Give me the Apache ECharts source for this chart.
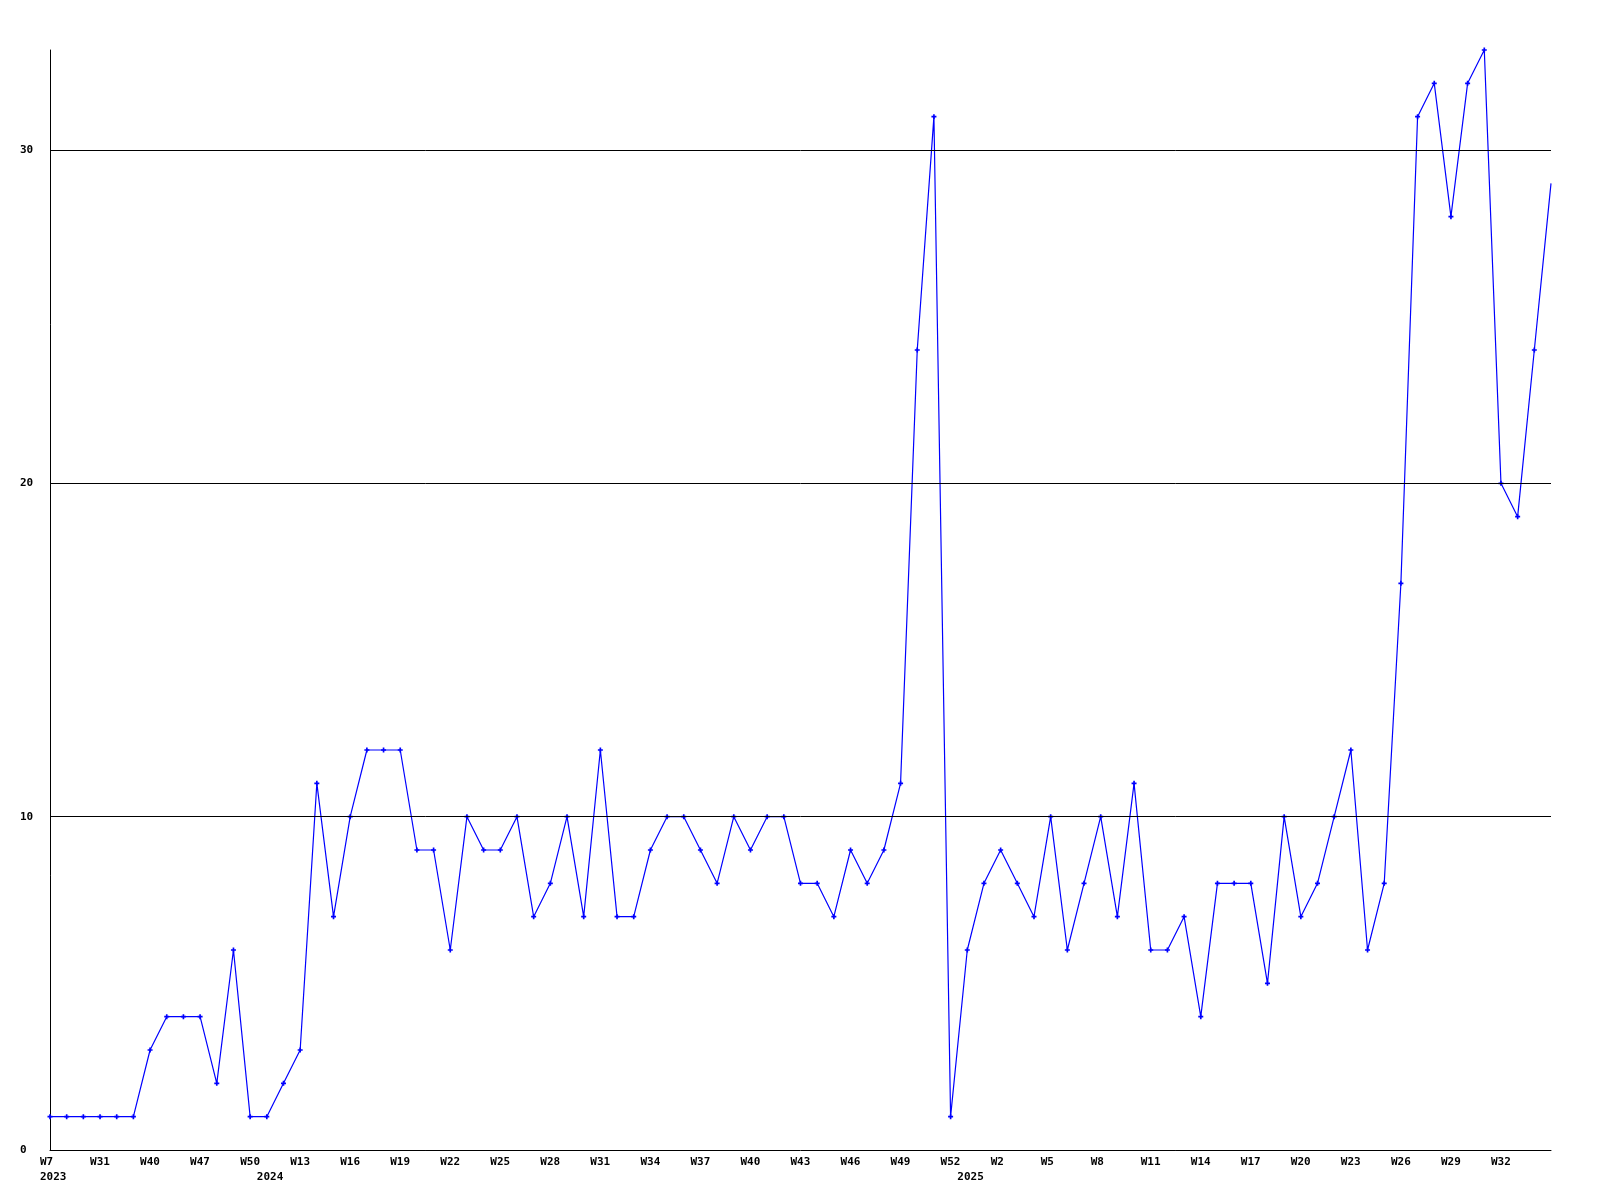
<!DOCTYPE html>
<html>
<head>
<meta charset="utf-8">
<script src="https://cdn.jsdelivr.net/npm/echarts@6/dist/echarts.min.js"></script>
<style>
html,body{margin:0;padding:0;background:#fff;}
#chart{width:1600px;height:1200px;}
</style>
</head>
<body>
<div id="chart"></div>
<script>
const weeks2023 = ['W7','W15','W22','W31','W34','W37','W40','W42','W45','W47','W48','W49','W50'];
const weeks2024 = ['W0','W8','W13','W14','W15','W16','W17','W18','W19','W20','W21','W22','W23','W24','W25','W26','W27','W28','W29','W30','W31','W32','W33','W34','W35','W36','W37','W38','W39','W40','W41','W42','W43','W44','W45','W46','W47','W48','W49','W50','W51','W52'];
const weeks2025 = ['W0','W1','W2','W3','W4','W5','W6','W7','W8','W9','W10','W11','W12','W13','W14','W15','W16','W17','W18','W19','W20','W21','W22','W23','W24','W25','W26','W27','W28','W29','W30','W31','W32','W33','W34','W35'];
const values = [1,1,1,1,1,1,3,4,4,4,
                2,6,1,1,2,3,11,7,10,12,
                12,12,9,9,6,10,9,9,10,7,
                8,10,7,12,7,7,9,10,10,9,
                8,10,9,10,10,8,8,7,9,8,
                9,11,24,31,1,6,8,9,8,7,
                10,6,8,10,7,11,6,6,7,4,
                8,8,8,5,10,7,8,10,12,6,
                8,17,31,32,28,32,33,20,19,24,
                29];
const yGridValues = [10, 20, 30];
const yLabelValues = [0, 10, 20, 30];

const categories = [
  ...weeks2023.map(w => '2023-' + w),
  ...weeks2024.map(w => '2024-' + w),
  ...weeks2025.map(w => '2025-' + w)
];
const yearOf = c => c.split('-')[0];
const weekOf = c => c.split('-')[1];
const lastIndex = categories.length - 1;

const font = { fontFamily: 'DejaVu Sans Mono', fontWeight: 'bold', fontSize: 11, color: '#000' };
const plusPath = 'path://M2,0L4,0L4,2L6,2L6,4L4,4L4,6L2,6L2,4L0,4L0,2L2,2Z';

const chart = echarts.init(document.getElementById('chart'), null, { renderer: 'canvas' });
chart.setOption({
  animation: false,
  backgroundColor: '#fff',
  grid: { left: 50, right: 49, top: 50, bottom: 50, containLabel: false },
  xAxis: [
    {
      type: 'category',
      data: categories,
      boundaryGap: false,
      position: 'bottom',
      axisLine: { show: true, lineStyle: { color: '#000', width: 1 } },
      axisTick: { show: false },
      splitLine: { show: false },
      axisLabel: Object.assign({}, font, {
        interval: (i) => i % 3 === 0 && i < lastIndex - 1,
        align: 'left',
        padding: [0, 0, 0, -10],
        margin: 7,
        formatter: v => weekOf(v)
      })
    },
    {
      type: 'category',
      data: categories,
      boundaryGap: false,
      position: 'bottom',
      axisLine: { show: false },
      axisTick: { show: false },
      splitLine: { show: false },
      axisLabel: Object.assign({}, font, {
        interval: (i, v) => i === 0 || yearOf(categories[i - 1]) !== yearOf(v),
        align: 'left',
        padding: [0, 0, 0, -10],
        margin: 22,
        formatter: v => yearOf(v)
      })
    }
  ],
  yAxis: {
    type: 'value',
    min: 0,
    max: 33,
    interval: 10,
    axisLine: { show: true, lineStyle: { color: '#000', width: 1 } },
    axisTick: { show: false },
    splitLine: { show: false },
    axisLabel: Object.assign({}, font, {
      align: 'left',
      margin: 30,
      customValues: yLabelValues
    })
  },
  series: [{
    type: 'line',
    data: values,
    xAxisIndex: 0,
    symbol: (v, p) => p.dataIndex === lastIndex ? 'none' : plusPath,
    symbolSize: 5,
    showAllSymbol: true,
    itemStyle: { color: '#0000ff' },
    lineStyle: { color: '#0000ff', width: 1.2 },
    markLine: {
      silent: true,
      symbol: ['none', 'none'],
      label: { show: false },
      lineStyle: { color: '#000', width: 1, type: 'solid' },
      data: yGridValues.map(v => ({ yAxis: v }))
    },
    z: 3
  }]
});
</script>
</body>
</html>
